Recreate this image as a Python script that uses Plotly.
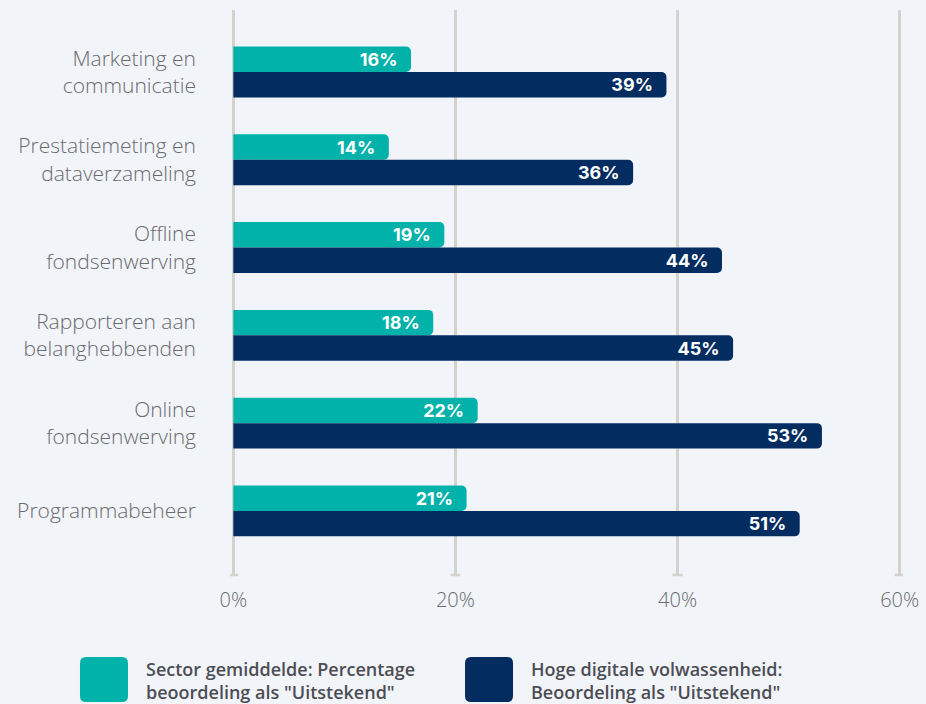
import plotly.graph_objects as go

# Survey data: share rating each area as "Uitstekend"
categories = [
    "Marketing en<br>communicatie",
    "Prestatiemeting en<br>dataverzameling",
    "Offline<br>fondsenwerving",
    "Rapporteren aan<br>belanghebbenden",
    "Online<br>fondsenwerving",
    "Programmabeheer",
]
sector_avg = [16, 14, 19, 18, 22, 21]
high_maturity = [39, 36, 44, 45, 53, 51]
tick_vals = [0, 20, 40, 60]
tick_text = ["0%", "20%", "40%", "60%"]
legend_names = [
    "Sector gemiddelde: Percentage<br>beoordeling als \"Uitstekend\"",
    "Hoge digitale volwassenheid:<br>Beoordeling als \"Uitstekend\"",
]

TEAL = "#00b2a9"
NAVY = "#032d60"
BG = "#f1f4f8"
GRID = "#d5d1cc"
LABEL = "#6a6a70"
PAD = "\u00a0\u00a0"

fig = go.Figure()
for vals, color, name in [(sector_avg, TEAL, legend_names[0]), (high_maturity, NAVY, legend_names[1])]:
    fig.add_trace(go.Bar(
        y=categories, x=vals, orientation="h", name=name,
        marker=dict(color=color, line=dict(width=0), cornerradius=5),
        text=[f"{v}%{PAD}" for v in vals], textposition="inside", insidetextanchor="end",
        textfont=dict(family="Inter", size=18, color="white", weight=700),
        constraintext="none", cliponaxis=False, showlegend=False,
    ))

# small foot marks under each vertical gridline
for v in tick_vals:
    fig.add_shape(type="line", xref="x", yref="paper", xsizemode="pixel", xanchor=v,
                  x0=-5, x1=5, y0=0, y1=0, line=dict(color=GRID, width=2.5), layer="below")


def rounded_box(x0, x1, y0, y1, r):
    """SVG path for a rounded rectangle (pixel units)."""
    return (f"M {x0 + r},{y1} L {x1 - r},{y1} Q {x1},{y1} {x1},{y1 - r} "
            f"L {x1},{y0 + r} Q {x1},{y0} {x1 - r},{y0} L {x0 + r},{y0} "
            f"Q {x0},{y0} {x0},{y0 + r} L {x0},{y1 - r} Q {x0},{y1} {x0 + r},{y1} Z")


# custom legend with large rounded swatches (positions relative to the plot area)
legend_x = [-0.2229, 0.3492]
for (lx, color, name) in zip(legend_x, [TEAL, NAVY], legend_names):
    fig.add_shape(type="path", xref="paper", yref="paper", xsizemode="pixel", ysizemode="pixel",
                  xanchor=lx, yanchor=0, path=rounded_box(0, 48, -127, -82, 6),
                  fillcolor=color, line=dict(width=0))
    fig.add_annotation(xref="paper", yref="paper", x=lx, y=0, xshift=64, yshift=-105,
                       xanchor="left", yanchor="middle", align="left", showarrow=False,
                       text=name, font=dict(family="Open Sans", size=18, color="#4d4d55", weight=600))

fig.update_layout(
    width=926, height=704,
    margin=dict(l=230, r=23, t=10, b=129, autoexpand=False),
    paper_bgcolor=BG, plot_bgcolor=BG,
    barmode="group", bargap=0.42, bargroupgap=0,
    uniformtext=dict(minsize=17, mode="show"),
    font=dict(family="Open Sans", color=LABEL),
    xaxis=dict(range=[-0.3, 60.3], tickvals=tick_vals, ticktext=tick_text,
               showgrid=True, gridcolor=GRID, gridwidth=2.5, zeroline=False,
               showline=False, ticks="", ticklabelstandoff=11, automargin=False,
               tickfont=dict(family="Open Sans", size=20, color=LABEL, weight=300)),
    yaxis=dict(range=[5.73, -0.706], showgrid=False, zeroline=False, showline=False,
               ticks="", ticklabelstandoff=33, automargin=False,
               tickfont=dict(family="Open Sans", size=21, color=LABEL, weight=300)),
)

fig.write_html("out.html")
